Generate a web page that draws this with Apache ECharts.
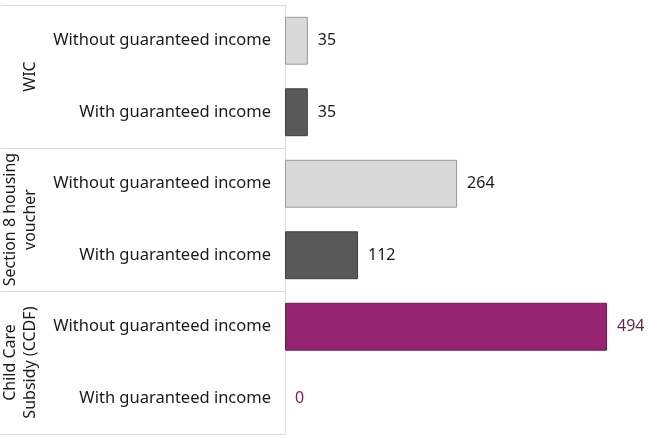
<!DOCTYPE html>
<html>
<head>
<meta charset="utf-8">
<script src="https://cdn.jsdelivr.net/npm/echarts@6/dist/echarts.min.js"></script>
<style>
  html, body { margin: 0; padding: 0; background: #fff; }
  #chart { width: 650px; height: 438px; }
</style>
</head>
<body>
<div id="chart"></div>
<script>
  // data
  var groups = ['WIC', 'Section 8 housing\nvoucher', 'Child Care\nSubsidy (CCDF)'];
  var rows = [
    'Without guaranteed income', 'With guaranteed income',
    'Without guaranteed income', 'With guaranteed income',
    'Without guaranteed income', 'With guaranteed income'
  ];
  var values = [35, 35, 264, 112, 494, 0];

  // colours per row: light = without, dark = with, CCDF highlighted
  var fills = ['#d9d9d9', '#595959', '#d9d9d9', '#595959', '#95236f', '#95236f'];
  var borders = ['#9a9a9a', '#3e3e3e', '#9a9a9a', '#3e3e3e', '#6d1a51', '#6d1a51'];
  var labelColors = ['#1a1a1a', '#1a1a1a', '#1a1a1a', '#1a1a1a', '#6a1d50', '#7a2060'];

  var font = 'Noto Sans';
  var chart = echarts.init(document.getElementById('chart'));

  chart.setOption({
    animation: false,
    grid: { left: 284, right: 43, top: 5, bottom: 4 },
    xAxis: {
      type: 'value',
      min: 0,
      max: 494,
      show: false
    },
    yAxis: [
      {
        type: 'category',
        data: rows,
        inverse: true,
        axisLine: { show: false },
        axisTick: { show: false },
        axisLabel: {
          interval: 0,
          margin: 14,
          fontFamily: font,
          fontSize: 16.5,
          color: '#1a1a1a'
        }
      },
      {
        type: 'category',
        data: groups,
        inverse: true,
        position: 'left',
        axisLine: { show: true, lineStyle: { color: '#dcdcdc', width: 1 } },
        axisTick: { show: true, length: 284, lineStyle: { color: '#dcdcdc', width: 1 } },
        axisLabel: {
          interval: 0,
          rotate: 90,
          margin: 245,
          fontFamily: font,
          fontSize: 16,
          lineHeight: 20,
          color: '#1a1a1a'
        }
      }
    ],
    series: [{
      type: 'bar',
      yAxisIndex: 0,
      barWidth: '67%',
      data: values.map(function (v, i) {
        return {
          value: v,
          itemStyle: { color: fills[i], borderColor: borders[i], borderWidth: v > 0 ? 1 : 0 },
          label: { color: labelColors[i] }
        };
      }),
      label: {
        show: true,
        position: 'right',
        distance: 10,
        fontFamily: font,
        fontSize: 16
      }
    }]
  });
</script>
</body>
</html>
